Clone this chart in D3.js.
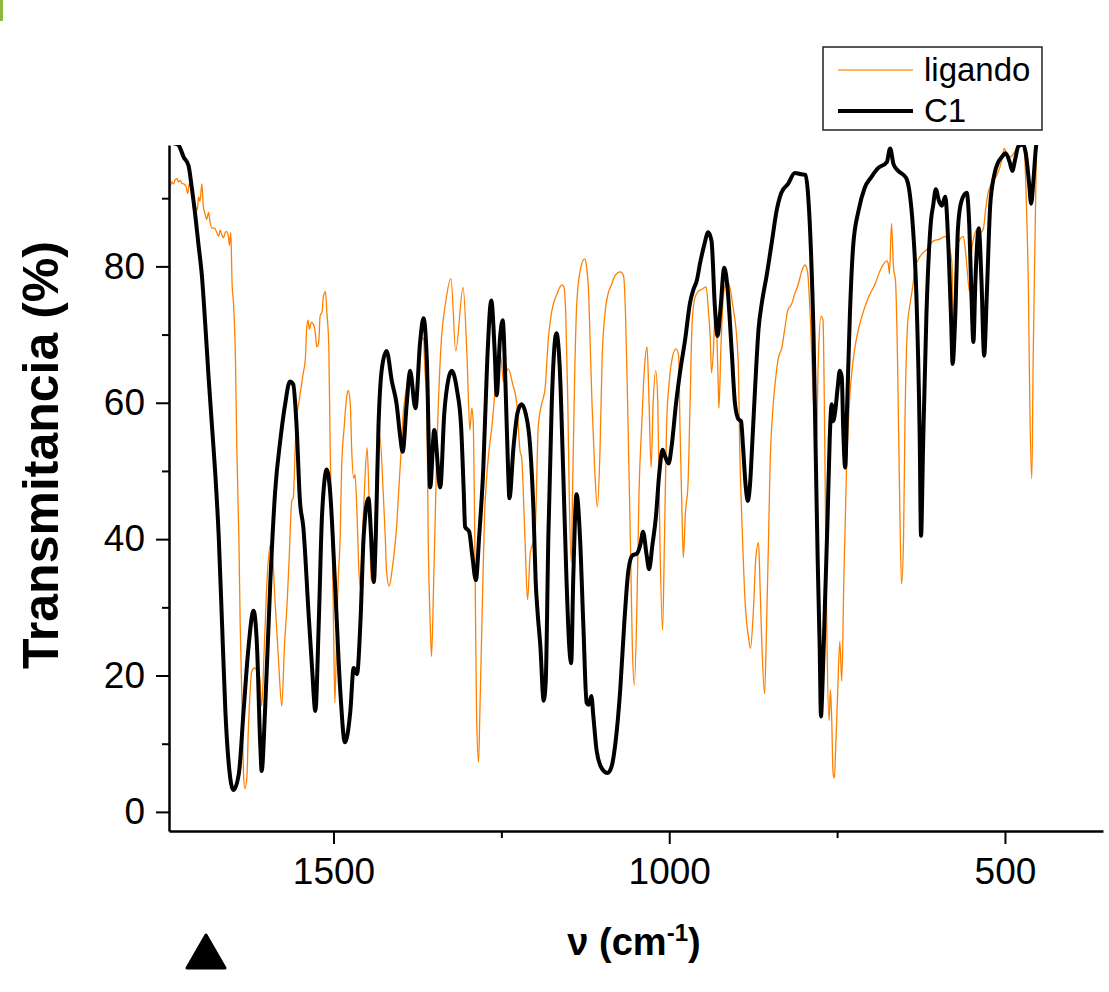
<!DOCTYPE html>
<html>
<head>
<meta charset="utf-8">
<script src="https://cdn.jsdelivr.net/npm/d3@7"></script>
<style>
    body { margin: 0; background: #fff; }
    svg text { font-family: Arial, "Liberation Sans", sans-serif; fill: #000; }
</style>
</head>
<body>
<div id="plotSect"></div>
<script>
/* global d3 */

// data: [wavenumber (cm-1), transmittance (%)]
let ligandoData = [
    [1746,92.1],[1743,91.8],[1741,92.4],[1738,92.1],[1736,92.7],[1733,92.9],[1731,92.4],[1728,92.6],
    [1726,92.2],[1723,92.1],[1720,91.8],[1717,90.7],[1715,92.1],[1712,91.5],[1708,89.5],[1706,88.9],
    [1703,88.2],[1701,90.2],[1699,89.5],[1696,92.1],[1694,88.9],[1691,87.6],[1689,86.9],[1686,87.9],
    [1684,86.6],[1681,85.6],[1677,85.6],[1674,85],[1671,84.4],[1669,85.3],[1666,84.5],[1664,84.2],
    [1661,85],[1659,85.1],[1656,84],[1655,83.1],[1653,85],[1651,77.3],[1649,74.7],[1646,66.3],
    [1644,53.4],[1641,40.5],[1639,27.6],[1636,14.7],[1634,5.6],[1632,3.4],[1629,5],[1627,11.5],
    [1624,17.9],[1622,20.5],[1618,21.1],[1614,20.8],[1610,19.8],[1607,15.5],[1603,24.4],[1599,34],
    [1594,39.2],[1591,37.9],[1587,30.8],[1582,22.4],[1577,15.5],[1573,24.4],[1569,30.8],[1566,37.3],
    [1562,45.7],[1560,46],[1557,53.4],[1555,57.9],[1552,59.8],[1548,62.4],[1545,64.4],[1542,66.3],
    [1540,70.8],[1538,72.1],[1536,70.8],[1533,71.8],[1530,71.5],[1527,70.2],[1525,68.2],[1522,68.9],
    [1520,72.7],[1517,73.4],[1515,75.6],[1512,76.3],[1510,73.4],[1507,68.2],[1505,53.4],[1502,40.5],
    [1500,27.6],[1498,16],[1495,27.6],[1493,34],[1490,40.5],[1488,50.2],[1484,56.6],[1480,61.1],
    [1478,61.8],[1475,59.8],[1473,53.4],[1470,48.9],[1468,49.5],[1465,43.7],[1462,35],[1460,33],
    [1457,40],[1454,47],[1450,53.4],[1447,45.7],[1444,34],[1441,34.7],[1438,42.4],[1435,53.4],
    [1431,55],[1426,46.9],[1423,40.5],[1421,35.3],[1417,33.1],[1413,35.3],[1409,38.6],[1406,41.8],
    [1403,46.9],[1399,53.4],[1396,58.6],[1393,61.1],[1391,62.4],[1386,64.4],[1379,59.8],[1377,59.2],
    [1374,62.4],[1371,68.9],[1366,69.5],[1364,65],[1361,59.8],[1359,40.5],[1356,27.6],[1354,22.8],
    [1351,33],[1346,53.4],[1340,68.2],[1333,74.7],[1325,78.2],[1318,67.6],[1307,76.9],[1301,66.3],
    [1297,56],[1294,59.2],[1292,57.3],[1289,34],[1287,14.7],[1284,7.3],[1282,14.7],[1279,27.6],
    [1275,43.7],[1272,48.9],[1268,53.4],[1264,56.6],[1260,61.1],[1257,64.4],[1251,66.9],[1247,63.1],
    [1240,65],[1233,62.7],[1227,59.8],[1222,52.8],[1220,52.1],[1215,40.5],[1211,31.1],[1207,37.9],
    [1200,40.5],[1195,56.6],[1190,59.8],[1185,62],[1180,69.5],[1175,73.4],[1167,76],[1160,77.3],
    [1157,77],[1154,72.7],[1151,59.8],[1149,46.9],[1146,36.6],[1144,46.9],[1141,63.1],[1138,74],
    [1133,79.2],[1126,81.1],[1123,79.8],[1120,76],[1118,69.5],[1115,59.8],[1111,50.2],[1107,44.7],
    [1103,53.4],[1100,66.3],[1096,72.8],[1091,76],[1086,77.3],[1081,78.6],[1073,79.2],[1068,78.6],
    [1065,72.7],[1062,59.8],[1058,40.5],[1055,24.4],[1052,18.6],[1048,30.8],[1045,46.9],[1041,56.6],
    [1037,65],[1033,68.2],[1030,59.8],[1027,50.5],[1024,59.8],[1020,64.7],[1017,59.8],[1014,40.5],
    [1010,26.6],[1007,40.5],[1004,56.6],[1000,63.1],[996,66.3],[990,67.9],[986,66.9],[984,56.6],
    [981,43.7],[979,37.3],[976,43.7],[972,48.2],[969,59.8],[966,71.5],[962,75.3],[957,76.3],
    [952,76.6],[945,77],[942,74],[939,69.5],[937,64.4],[934,68.2],[932,72.7],[929,69.5],
    [927,62.4],[926,59.2],[923,68.2],[919,76],[914,77.9],[909,76.6],[905,74],[899,68.9],
    [897,65],[895,53.4],[891,40.5],[887,30.8],[882,25.6],[879,24],[875,28.9],[871,37.3],
    [867,39.5],[865,34],[862,24.4],[858,17.3],[855,27.6],[852,40.5],[850,50.2],[846,58.6],
    [842,63.1],[838,66.3],[832,68.2],[828,70.8],[823,73.7],[818,74.4],[813,76],[808,77.3],
    [803,79.2],[798,80.2],[794,79.2],[790,72.7],[785,59.8],[781,53.4],[778,66.3],[774,72.7],
    [771,72.1],[769,59.8],[767,40.5],[765,24.4],[762,13.4],[760,17.9],[758,13.4],[756,5.7],
    [754,5],[752,9.6],[749,17.9],[746,25],[743,19.2],[740,34],[736,50.2],[731,61.1],
    [726,66.3],[721,69.5],[713,72.7],[704,75.3],[694,77.3],[684,79.8],[676,80.8],[674,80.5],
    [672,78.9],[669,86.3],[666,79.8],[663,77.9],[660,66.3],[657,46.9],[654,33.4],[651,40.5],
    [649,56.6],[645,71.5],[641,74.7],[637,77.3],[634,79.8],[629,81],[624,81.8],[617,82.4],
    [607,83.7],[597,84],[589,84.4],[584,83.1],[579,80.5],[577,72],[572,82.4],[567,84],
    [562,84.4],[559,82.4],[556,79.2],[553,76.3],[550,81.8],[546,84.4],[540,85.6],[536,85],
    [532,85.6],[529,88.2],[525,90.8],[520,92.1],[512,93.4],[507,94.7],[504,96],[501,97.3],
    [498,96.6],[493,96],[489,96.3],[485,96.9],[480,97.9],[475,98.2],[471,96.6],[468,88.9],
    [465,76],[463,59.8],[460,48.9],[458,66.3],[455,85.6],[453,98.5]
];

let c1Data = [
    [1746,99],[1741,98.2],[1731,97.8],[1723,96],[1716,94.8],[1711,91.5],[1706,87.6],[1701,83.1],
    [1696,78.6],[1691,71.5],[1686,63.7],[1681,56.6],[1676,49.5],[1671,40.5],[1666,27.6],[1661,14.7],
    [1656,7],[1649,3.2],[1641,5.6],[1634,14.7],[1627,23.7],[1619,29.5],[1614,24.4],[1609,9.6],
    [1607,6],[1602,14.7],[1594,34],[1587,46.9],[1579,54.7],[1572,59.8],[1565,63.1],[1560,62.7],
    [1555,56.6],[1550,45.6],[1545,41.8],[1537,28.9],[1532,21.2],[1527,14.8],[1522,27.6],[1517,43.7],
    [1510,50.2],[1505,46.9],[1498,34],[1490,17.9],[1483,10.2],[1475,14.7],[1470,21.1],[1465,20.2],
    [1460,27.6],[1455,40.5],[1448,46],[1444,40.5],[1440,33.7],[1437,40.5],[1433,56.6],[1428,65],
    [1421,67.6],[1413,63.1],[1406,59.8],[1401,55.3],[1397,52.8],[1391,59.8],[1386,64.7],[1378,59.2],
    [1371,68.9],[1366,72.4],[1361,66.3],[1356,47.6],[1350,56],[1341,47.6],[1335,58.5],[1329,63.4],
    [1324,64.7],[1316,61.8],[1310,56.6],[1306,46.9],[1304,41.8],[1298,41.1],[1293,37.3],[1288,34],
    [1283,40.5],[1277,50.2],[1271,66.3],[1265,75],[1260,67.6],[1257,61.1],[1252,69.5],[1248,72.1],
    [1244,63.1],[1240,50.2],[1238,46],[1232,53.4],[1226,58.5],[1220,59.8],[1214,58.5],[1207,53.4],
    [1202,43.7],[1199,34],[1196,29.2],[1192,24.4],[1187,16.3],[1184,19],[1180,40.5],[1175,59.8],
    [1168,70.2],[1163,65],[1158,50.2],[1153,34],[1149,24.4],[1146,21.8],[1143,34],[1138,46.6],
    [1133,40.5],[1128,27.6],[1123,16],[1120,15.7],[1116,17],[1113,14],[1108,8.9],[1100,6.3],
    [1092,5.7],[1086,6.6],[1080,10.2],[1073,17.9],[1067,27.6],[1061,35.3],[1055,37.6],[1048,37.9],
    [1043,39.2],[1039,41.1],[1034,37.9],[1030,35.6],[1025,39.2],[1020,43.1],[1015,49.5],[1010,53.1],
    [1006,52.1],[1001,51.1],[996,54],[990,59.8],[984,64.4],[976,69.5],[969,74.7],[964,76.6],
    [959,77.9],[954,80.5],[948,83.1],[942,85],[937,83.7],[932,74],[928,69.8],[924,73.4],
    [918,79.8],[913,76.6],[907,67.6],[902,59.8],[897,57.6],[893,57.3],[890,53.4],[886,47.6],
    [883,45.6],[880,47.6],[876,54.7],[872,62.4],[867,70.8],[862,74.7],[855,78.6],[847,83.7],
    [840,88.2],[833,90.8],[823,92.1],[813,93.7],[803,93.5],[797,93.4],[793,90.2],[789,82.4],
    [785,69.5],[782,53.4],[779,37.3],[776,24.4],[774,14],[772,17.9],[768,30.8],[764,43.7],
    [761,54.7],[758,59.8],[756,57.3],[753,58.6],[749,62.4],[746,64.7],[743,63.7],[741,56.6],
    [738,50.5],[735,59.8],[731,72.8],[726,83.1],[718,88.2],[709,91.5],[699,93.1],[689,94.4],
    [676,95.3],[671,97.3],[666,95],[659,94],[651,93.4],[646,92.7],[642,90.8],[637,85.6],
    [632,76],[627,55],[625,40.5],[622,53.4],[617,72.8],[610,86.9],[607,88.9],[603,91.3],
    [598,89.5],[594,88.9],[589,90.2],[584,82.4],[580,71.5],[578,65.7],[574,72.8],[570,85.6],
    [565,89.5],[557,90.8],[553,85.6],[550,76],[547,68.9],[544,77.9],[539,85.6],[535,77.9],
    [531,66.9],[527,76],[522,88.9],[516,93.4],[510,95.3],[505,96],[499,96.6],[493,95.3],
    [489,94],[485,95.6],[480,97.6],[473,97.9],[469,96.6],[464,92.1],[461,89.2],[458,92.1],
    [454,97.3],[451,99]
];

let xMajorTicks = [1500, 1000, 500];
let xMinorTicks = [1250, 750];
let yMajorTicks = [0, 20, 40, 60, 80];
let yMinorTicks = [10, 30, 50, 70, 90];
let seriesNames = ["ligando", "C1"];

// Initial chart setup //

let SVGwidth = 1109,
    SVGheight = 992,
    plotLeft = 169,
    plotRight = 1103,
    plotTop = 145,
    plotBottom = 831;

let svg = d3.select("#plotSect").append("svg")
    .attr("width", SVGwidth)
    .attr("height", SVGheight);

let xScale = d3.scaleLinear().domain([1745, 354]).range([plotLeft, plotRight]);
let yScale = d3.scaleLinear().domain([-2.8, 97.8]).range([plotBottom, plotTop]);

// little green corner left over from the slide
svg.append("rect")
    .attr("x", 0).attr("y", 0)
    .attr("width", 3).attr("height", 21)
    .style("fill", "#8fb840");

svg.append("clipPath")
    .attr("id", "plotClip")
    .append("rect")
    .attr("x", plotLeft)
    .attr("y", plotTop)
    .attr("width", plotRight - plotLeft)
    .attr("height", plotBottom - plotTop);

let line = d3.line()
    .x(function(d) { return xScale(d[0]); })
    .y(function(d) { return yScale(d[1]); })
    .curve(d3.curveMonotoneX);

let curves = svg.append("g").attr("clip-path", "url(#plotClip)");

curves.append("path")
    .datum(ligandoData)
    .attr("d", line)
    .style("fill", "none")
    .style("stroke", "#ff8000")
    .style("stroke-width", 1.3)
    .style("stroke-linejoin", "round");

curves.append("path")
    .datum(c1Data)
    .attr("d", line)
    .style("fill", "none")
    .style("stroke", "#000")
    .style("stroke-width", 4)
    .style("stroke-linejoin", "round");

// axes //

let xAxis = svg.append("g")
    .attr("transform", "translate(0," + plotBottom + ")")
    .call(d3.axisBottom(xScale).tickValues(xMajorTicks).tickFormat(d3.format("d"))
        .tickSize(13).tickSizeOuter(0).tickPadding(14));

let xMinor = svg.append("g")
    .attr("transform", "translate(0," + plotBottom + ")")
    .call(d3.axisBottom(xScale).tickValues(xMinorTicks).tickSize(7).tickFormat(""));
xMinor.select(".domain").remove();

let yAxis = svg.append("g")
    .attr("transform", "translate(" + plotLeft + ",0)")
    .call(d3.axisLeft(yScale).tickValues(yMajorTicks).tickFormat(d3.format("d"))
        .tickSize(13).tickSizeOuter(0).tickPadding(11));

let yMinor = svg.append("g")
    .attr("transform", "translate(" + plotLeft + ",0)")
    .call(d3.axisLeft(yScale).tickValues(yMinorTicks).tickSize(7).tickFormat(""));
yMinor.select(".domain").remove();

svg.selectAll(".domain").style("stroke", "#000").style("stroke-width", 2.5);
svg.selectAll(".tick line").style("stroke", "#000").style("stroke-width", 2);
svg.selectAll(".tick text")
    .style("font-size", "37px")
    .style("font-family", "Arial, 'Liberation Sans', sans-serif");

svg.append("text")
    .attr("transform", "translate(58,455) rotate(-90)")
    .style("text-anchor", "middle")
    .style("font-size", "50px")
    .style("font-weight", "bold")
    .text("Transmitancia (%)");

let xTitle = svg.append("text")
    .attr("x", 634)
    .attr("y", 955)
    .style("text-anchor", "middle")
    .style("font-size", "38px")
    .style("font-weight", "bold");
xTitle.append("tspan").text("\u03bd (cm");
xTitle.append("tspan").attr("dy", -14).style("font-size", "24px").text("-1");
xTitle.append("tspan").attr("dy", 14).text(")");

// legend //

let legendX = 823, legendY = 47;
svg.append("rect")
    .attr("x", legendX)
    .attr("y", legendY)
    .attr("width", 219)
    .attr("height", 83)
    .style("fill", "#fff")
    .style("stroke", "#222")
    .style("stroke-width", 1.5);

let legendColors = ["#ff9a30", "#000"];
let legendWidths = [1.6, 4];
let legend = svg.selectAll(".legend")
    .data(seriesNames)
    .enter().append("g")
    .attr("class", "legend")
    .attr("transform", function(d, i) { return "translate(" + legendX + "," + (legendY + 23 + i * 41) + ")"; });

legend.append("line")
    .attr("x1", 15)
    .attr("x2", 90)
    .style("stroke", function(d, i) { return legendColors[i]; })
    .style("stroke-width", function(d, i) { return legendWidths[i]; });

legend.append("text")
    .attr("x", 101)
    .attr("y", 11)
    .style("font-size", "33px")
    .text(function(d) { return d; });

// black marker below the axis
svg.append("path")
    .attr("d", "M206,935 L187,968 L225,968 Z")
    .style("fill", "#000")
    .style("stroke", "#000")
    .style("stroke-width", 3)
    .style("stroke-linejoin", "round");
</script>
</body>
</html>
